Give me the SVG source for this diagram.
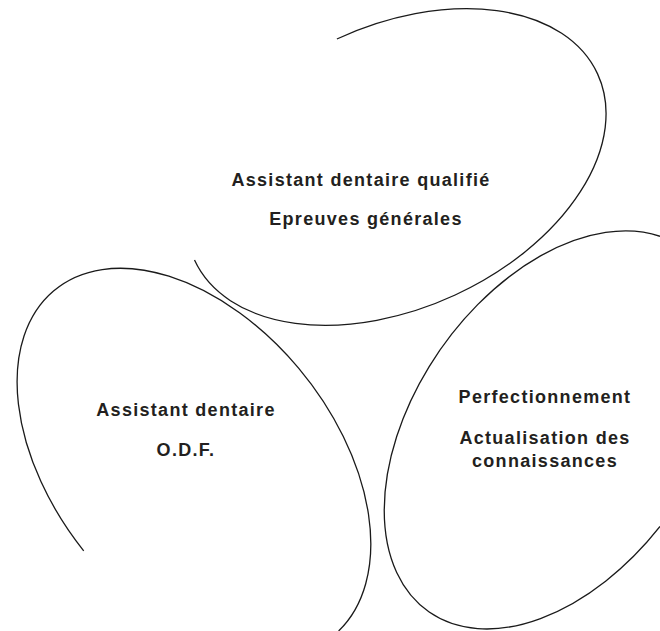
<svg xmlns="http://www.w3.org/2000/svg" width="660" height="631" viewBox="0 0 660 631">
<style>
.loop{fill:none;stroke:#1a1a1a;stroke-width:1.3}
.lbl{font-family:"Liberation Sans",Arial,sans-serif;font-weight:bold;font-size:18px;letter-spacing:1.3px;fill:#231f20;text-anchor:middle}
</style>
<rect width="660" height="631" fill="#ffffff"/>
<g id="connectors"></g>
<g id="node-qualifie">
<path class="loop" d="M 336.9,39 A 222 141 -24.8 1 1 194.5,260.1"/>
<text class="lbl" x="361" y="186">Assistant dentaire qualifié</text>
<text class="lbl" x="366" y="225">Epreuves générales</text>
</g>
<g id="node-odf">
<path class="loop" d="M 83.7,550.8 A 222 141 51.5 1 1 338.6,631"/>
<text class="lbl" x="186" y="416">Assistant dentaire</text>
<text class="lbl" x="186" y="456">O.D.F.</text>
</g>
<g id="node-perfectionnement">
<path class="loop" d="M 660,236.3 A 222 141 -55 1 0 660,526.5"/>
<text class="lbl" x="545" y="403">Perfectionnement</text>
<text class="lbl" x="545" y="444">Actualisation des</text>
<text class="lbl" x="545" y="467">connaissances</text>
</g>
</svg>
